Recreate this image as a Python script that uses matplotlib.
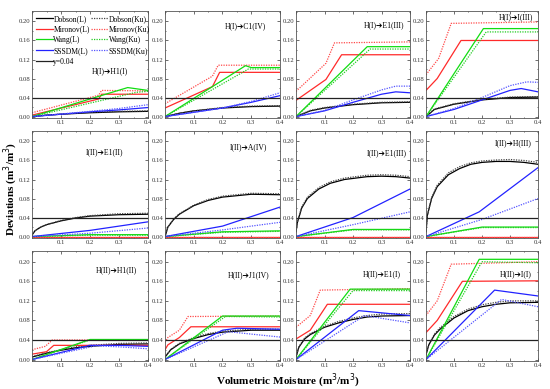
import matplotlib.pyplot as plt
from matplotlib.ticker import MultipleLocator

plt.rcParams['font.family'] = ['Liberation Serif', 'DejaVu Sans']

series = ['Dobson(L)', 'Dobson(Ku)', 'Mironov(L)', 'Mironov(Ku)',
          'Wang(L)', 'Wang(Ku)', 'SSSDM(L)', 'SSSDM(Ku)']
threshold = 0.04

titles = ['H(I)➔H1(I)', 'H(I)➔C1(IV)', 'H(I)➔E1(III)', 'H(I)➔I(III)',
          'I(II)➔E1(II)', 'I(II)➔A(IV)', 'I(II)➔E1(III)', 'I(II)➔H(III)',
          'H(II)➔H1(II)', 'H(II)➔J1(IV)', 'H(II)➔E1(I)', 'H(II)➔I(I)']

# each series: (moisture points, deviation points)
p1 = {
    'Dobson(L)': ([0, 0.05, 0.1, 0.2, 0.3, 0.4], [0.0, 0.003, 0.005, 0.008, 0.010, 0.011]),
    'Dobson(Ku)': ([0, 0.05, 0.1, 0.2, 0.3, 0.4], [0.0, 0.003, 0.005, 0.009, 0.011, 0.012]),
    'Mironov(L)': ([0, 0.23, 0.24, 0.4], [0.003, 0.037, 0.047, 0.047]),
    'Mironov(Ku)': ([0, 0.23, 0.24, 0.4], [0.008, 0.045, 0.055, 0.054]),
    'Wang(L)': ([0, 0.33, 0.4], [0.0, 0.061, 0.055]),
    'Wang(Ku)': ([0, 0.36, 0.4], [0.0, 0.051, 0.053]),
    'SSSDM(L)': ([0, 0.2, 0.3, 0.4], [0.0, 0.010, 0.014, 0.019]),
    'SSSDM(Ku)': ([0, 0.2, 0.3, 0.4], [0.0, 0.011, 0.017, 0.025]),
}
p2 = {
    'Dobson(L)': ([0, 0.05, 0.1, 0.2, 0.3, 0.4], [0.0, 0.007, 0.012, 0.018, 0.021, 0.022]),
    'Dobson(Ku)': ([0, 0.05, 0.1, 0.2, 0.3, 0.4], [0.0, 0.007, 0.012, 0.019, 0.022, 0.023]),
    'Mironov(L)': ([0, 0.165, 0.19, 0.4], [0.018, 0.063, 0.093, 0.093]),
    'Mironov(Ku)': ([0, 0.165, 0.185, 0.4], [0.027, 0.085, 0.108, 0.108]),
    'Wang(L)': ([0, 0.28, 0.3, 0.4], [0.0, 0.107, 0.103, 0.103]),
    'Wang(Ku)': ([0, 0.29, 0.4], [0.0, 0.100, 0.100]),
    'SSSDM(L)': ([0, 0.2, 0.3, 0.4], [0.0, 0.018, 0.030, 0.044]),
    'SSSDM(Ku)': ([0, 0.2, 0.3, 0.4], [0.0, 0.018, 0.032, 0.050]),
}
p3 = {
    'Dobson(L)': ([0, 0.05, 0.1, 0.2, 0.3, 0.4], [0.0, 0.012, 0.018, 0.025, 0.029, 0.030]),
    'Dobson(Ku)': ([0, 0.05, 0.1, 0.2, 0.3, 0.4], [0.0, 0.013, 0.019, 0.026, 0.030, 0.031]),
    'Mironov(L)': ([0, 0.105, 0.16, 0.4], [0.034, 0.078, 0.130, 0.130]),
    'Mironov(Ku)': ([0, 0.105, 0.135, 0.4], [0.053, 0.112, 0.155, 0.157]),
    'Wang(L)': ([0, 0.25, 0.4], [0.0, 0.147, 0.147]),
    'Wang(Ku)': ([0, 0.26, 0.4], [0.0, 0.142, 0.142]),
    'SSSDM(L)': ([0, 0.1, 0.2, 0.3, 0.35, 0.4], [0.0, 0.012, 0.030, 0.047, 0.052, 0.050]),
    'SSSDM(Ku)': ([0, 0.1, 0.2, 0.3, 0.35, 0.4], [0.0, 0.013, 0.035, 0.056, 0.064, 0.064]),
}
p4 = {
    'Dobson(L)': ([0, 0.03, 0.1, 0.2, 0.3, 0.4], [0.0, 0.015, 0.026, 0.035, 0.040, 0.041]),
    'Dobson(Ku)': ([0, 0.03, 0.1, 0.2, 0.3, 0.4], [0.0, 0.016, 0.027, 0.036, 0.041, 0.042]),
    'Mironov(L)': ([0, 0.04, 0.125, 0.4], [0.055, 0.080, 0.160, 0.160]),
    'Mironov(Ku)': ([0, 0.045, 0.09, 0.4], [0.088, 0.122, 0.196, 0.199]),
    'Wang(L)': ([0, 0.205, 0.4], [0.0, 0.185, 0.185]),
    'Wang(Ku)': ([0, 0.215, 0.4], [0.0, 0.178, 0.178]),
    'SSSDM(L)': ([0, 0.1, 0.2, 0.3, 0.34, 0.4], [0.0, 0.015, 0.035, 0.055, 0.059, 0.052]),
    'SSSDM(Ku)': ([0, 0.1, 0.2, 0.3, 0.36, 0.4], [0.0, 0.017, 0.040, 0.065, 0.073, 0.072]),
}
p5 = {
    'Dobson(L)': ([0, 0.01, 0.03, 0.05, 0.1, 0.15, 0.2, 0.3, 0.4],
                  [0.003, 0.012, 0.020, 0.025, 0.033, 0.039, 0.043, 0.046, 0.047]),
    'Dobson(Ku)': ([0, 0.01, 0.03, 0.05, 0.1, 0.15, 0.2, 0.3, 0.4],
                   [0.003, 0.012, 0.020, 0.025, 0.034, 0.040, 0.044, 0.048, 0.049]),
    'Mironov(L)': ([0, 0.4], [0.0, 0.0]),
    'Mironov(Ku)': ([0, 0.4], [0.0, 0.0]),
    'Wang(L)': ([0, 0.2, 0.4], [0.0, 0.004, 0.004]),
    'Wang(Ku)': ([0, 0.2, 0.4], [0.0, 0.003, 0.003]),
    'SSSDM(L)': ([0, 0.2, 0.4], [0.0, 0.013, 0.031]),
    'SSSDM(Ku)': ([0, 0.2, 0.4], [0.0, 0.007, 0.018]),
}
p6 = {
    'Dobson(L)': ([0, 0.01, 0.03, 0.05, 0.1, 0.15, 0.2, 0.3, 0.4],
                  [0.0, 0.020, 0.036, 0.047, 0.065, 0.076, 0.083, 0.089, 0.088]),
    'Dobson(Ku)': ([0, 0.01, 0.03, 0.05, 0.1, 0.15, 0.2, 0.3, 0.4],
                   [0.0, 0.020, 0.037, 0.048, 0.066, 0.078, 0.085, 0.091, 0.090]),
    'Mironov(L)': ([0, 0.4], [0.0, 0.0]),
    'Mironov(Ku)': ([0, 0.4], [0.0, 0.0]),
    'Wang(L)': ([0, 0.2, 0.4], [0.0, 0.010, 0.012]),
    'Wang(Ku)': ([0, 0.2, 0.4], [0.0, 0.009, 0.011]),
    'SSSDM(L)': ([0, 0.2, 0.4], [0.0, 0.022, 0.062]),
    'SSSDM(Ku)': ([0, 0.2, 0.4], [0.0, 0.014, 0.030]),
}
p7 = {
    'Dobson(L)': ([0, 0.005, 0.02, 0.04, 0.08, 0.12, 0.17, 0.25, 0.3, 0.35, 0.4],
                  [0.010, 0.030, 0.060, 0.080, 0.100, 0.112, 0.120, 0.126, 0.127, 0.126, 0.123]),
    'Dobson(Ku)': ([0, 0.005, 0.02, 0.04, 0.08, 0.12, 0.17, 0.25, 0.3, 0.35, 0.4],
                   [0.010, 0.031, 0.062, 0.083, 0.103, 0.115, 0.123, 0.129, 0.130, 0.129, 0.126]),
    'Mironov(L)': ([0, 0.4], [0.0, 0.0]),
    'Mironov(Ku)': ([0, 0.4], [0.0, 0.0]),
    'Wang(L)': ([0, 0.2, 0.4], [0.0, 0.015, 0.015]),
    'Wang(Ku)': ([0, 0.2, 0.4], [0.0, 0.014, 0.014]),
    'SSSDM(L)': ([0, 0.2, 0.4], [0.0, 0.040, 0.100]),
    'SSSDM(Ku)': ([0, 0.2, 0.4], [0.0, 0.025, 0.052]),
}
p8 = {
    'Dobson(L)': ([0, 0.005, 0.02, 0.04, 0.08, 0.12, 0.16, 0.2, 0.25, 0.3, 0.35, 0.4],
                  [0.010, 0.045, 0.080, 0.105, 0.130, 0.143, 0.152, 0.156, 0.158, 0.158, 0.156, 0.152]),
    'Dobson(Ku)': ([0, 0.005, 0.02, 0.04, 0.08, 0.12, 0.16, 0.2, 0.25, 0.3, 0.35, 0.4],
                   [0.010, 0.045, 0.082, 0.108, 0.134, 0.147, 0.155, 0.159, 0.161, 0.162, 0.160, 0.156]),
    'Mironov(L)': ([0, 0.4], [0.0, 0.0]),
    'Mironov(Ku)': ([0, 0.4], [0.0, 0.0]),
    'Wang(L)': ([0, 0.2, 0.4], [0.0, 0.020, 0.020]),
    'Wang(Ku)': ([0, 0.2, 0.4], [0.0, 0.019, 0.019]),
    'SSSDM(L)': ([0, 0.19, 0.4], [0.0, 0.052, 0.145]),
    'SSSDM(Ku)': ([0, 0.2, 0.4], [0.0, 0.036, 0.080]),
}
p9 = {
    'Dobson(L)': ([0, 0.05, 0.1, 0.15, 0.2, 0.3, 0.4], [0.005, 0.013, 0.019, 0.024, 0.027, 0.031, 0.032]),
    'Dobson(Ku)': ([0, 0.05, 0.1, 0.15, 0.2, 0.3, 0.4], [0.006, 0.014, 0.020, 0.026, 0.029, 0.033, 0.034]),
    'Mironov(L)': ([0, 0.05, 0.075, 0.4], [0.011, 0.016, 0.029, 0.029]),
    'Mironov(Ku)': ([0, 0.046, 0.07, 0.4], [0.020, 0.027, 0.040, 0.040]),
    'Wang(L)': ([0, 0.2, 0.4], [0.0, 0.041, 0.041]),
    'Wang(Ku)': ([0, 0.2, 0.4], [0.0, 0.040, 0.040]),
    'SSSDM(L)': ([0, 0.2, 0.3, 0.4], [0.0, 0.029, 0.029, 0.027]),
    'SSSDM(Ku)': ([0, 0.22, 0.3, 0.4], [0.0, 0.028, 0.026, 0.022]),
}
p10 = {
    'Dobson(L)': ([0, 0.02, 0.05, 0.1, 0.15, 0.2, 0.3, 0.4], [0.005, 0.020, 0.032, 0.043, 0.051, 0.056, 0.060, 0.060]),
    'Dobson(Ku)': ([0, 0.02, 0.05, 0.1, 0.15, 0.2, 0.3, 0.4], [0.005, 0.021, 0.033, 0.045, 0.053, 0.058, 0.062, 0.062]),
    'Mironov(L)': ([0, 0.01, 0.05, 0.09, 0.4], [0.020, 0.030, 0.045, 0.067, 0.067]),
    'Mironov(Ku)': ([0, 0.01, 0.05, 0.08, 0.4], [0.035, 0.045, 0.060, 0.088, 0.089]),
    'Wang(L)': ([0, 0.2, 0.4], [0.0, 0.089, 0.089]),
    'Wang(Ku)': ([0, 0.21, 0.4], [0.0, 0.088, 0.087]),
    'SSSDM(L)': ([0, 0.2, 0.25, 0.4], [0.0, 0.060, 0.064, 0.062]),
    'SSSDM(Ku)': ([0, 0.22, 0.3, 0.4], [0.0, 0.057, 0.052, 0.046]),
}
p11 = {
    'Dobson(L)': ([0, 0.01, 0.03, 0.05, 0.1, 0.15, 0.2, 0.25, 0.3, 0.4],
                  [0.005, 0.025, 0.042, 0.051, 0.066, 0.075, 0.082, 0.087, 0.089, 0.090]),
    'Dobson(Ku)': ([0, 0.01, 0.03, 0.05, 0.1, 0.15, 0.2, 0.25, 0.3, 0.4],
                   [0.005, 0.026, 0.044, 0.053, 0.068, 0.078, 0.085, 0.090, 0.093, 0.094]),
    'Mironov(L)': ([0, 0.05, 0.11, 0.4], [0.042, 0.060, 0.113, 0.113]),
    'Mironov(Ku)': ([0, 0.05, 0.085, 0.4], [0.066, 0.090, 0.142, 0.145]),
    'Wang(L)': ([0, 0.19, 0.4], [0.0, 0.144, 0.144]),
    'Wang(Ku)': ([0, 0.2, 0.4], [0.0, 0.141, 0.141]),
    'SSSDM(L)': ([0, 0.22, 0.4], [0.0, 0.100, 0.090]),
    'SSSDM(Ku)': ([0, 0.24, 0.4], [0.0, 0.090, 0.075]),
}
p12 = {
    'Dobson(L)': ([0, 0.01, 0.03, 0.05, 0.1, 0.15, 0.2, 0.25, 0.3, 0.4],
                  [0.010, 0.030, 0.050, 0.062, 0.085, 0.100, 0.108, 0.113, 0.116, 0.117]),
    'Dobson(Ku)': ([0, 0.01, 0.03, 0.05, 0.1, 0.15, 0.2, 0.25, 0.3, 0.4],
                   [0.010, 0.030, 0.052, 0.065, 0.088, 0.103, 0.112, 0.117, 0.120, 0.120]),
    'Mironov(L)': ([0, 0.04, 0.13, 0.4], [0.055, 0.080, 0.160, 0.161]),
    'Mironov(Ku)': ([0, 0.04, 0.09, 0.4], [0.090, 0.120, 0.195, 0.200]),
    'Wang(L)': ([0, 0.19, 0.4], [0.0, 0.205, 0.205]),
    'Wang(Ku)': ([0, 0.2, 0.4], [0.0, 0.200, 0.198]),
    'SSSDM(L)': ([0, 0.245, 0.4], [0.0, 0.142, 0.130]),
    'SSSDM(Ku)': ([0, 0.27, 0.4], [0.0, 0.123, 0.108]),
}
panels = [p1, p2, p3, p4, p5, p6, p7, p8, p9, p10, p11, p12]

# label position (moisture, deviation) of each panel's transition text
label_xy = [(0.27, 0.095), (0.28, 0.19), (0.31, 0.193), (0.32, 0.208),
            (0.25, 0.178), (0.29, 0.188), (0.32, 0.175), (0.31, 0.196),
            (0.29, 0.182), (0.29, 0.172), (0.30, 0.175), (0.32, 0.175)]

styles = {
    'Dobson(L)': dict(color='black', ls='-'),
    'Dobson(Ku)': dict(color='#444444', ls=(0, (1, 1))),
    'Mironov(L)': dict(color='#ff2a2a', ls='-'),
    'Mironov(Ku)': dict(color='#ff4a4a', ls=(0, (1, 1))),
    'Wang(L)': dict(color='#11dd11', ls='-'),
    'Wang(Ku)': dict(color='#22cc22', ls=(0, (1, 1))),
    'SSSDM(L)': dict(color='#2222ff', ls='-'),
    'SSSDM(Ku)': dict(color='#5555ff', ls=(0, (1, 1))),
}

W, H = 550, 389
col_px = [(32, 148), (165, 280), (296, 410), (426, 538)]
row_px = [(11, 118), (131, 238), (251, 361)]

fig = plt.figure(figsize=(5.5, 3.89), dpi=100)

for i, data in enumerate(panels):
    r, c = divmod(i, 4)
    l, rr = col_px[c]
    t, b = row_px[r]
    ax = fig.add_axes([l / W, 1 - b / H, (rr - l) / W, (b - t) / H])
    handles = {}
    for name in series:
        x, y = data[name]
        ln, = ax.plot(x, y, lw=0.9, label=name, **styles[name])
        handles[name] = ln
    hl = ax.axhline(threshold, color='#222222', lw=0.9, label='y=0.04')
    ax.text(label_xy[i][0], label_xy[i][1], titles[i], fontsize=5.5,
            ha='center', va='center')
    ax.set_xlim(0, 0.4)
    ax.set_ylim(-0.003, 0.222)
    ax.set_xticks([0, 0.1, 0.2, 0.3, 0.4], ['', '0.1', '0.2', '0.3', '0.4'])
    ax.set_yticks([0, 0.04, 0.08, 0.12, 0.16, 0.20])
    ax.xaxis.set_minor_locator(MultipleLocator(0.05))
    ax.yaxis.set_minor_locator(MultipleLocator(0.02))
    ax.tick_params(which='both', direction='in', top=True, right=True,
                   labelsize=4.8, pad=1.2, width=0.5, colors='#333333')
    ax.tick_params(which='major', length=2)
    ax.tick_params(which='minor', length=1)
    for s in ax.spines.values():
        s.set_linewidth(0.6)
        s.set_color('#555555')
    if i == 0:
        order = ['Dobson(L)', 'Mironov(L)', 'Wang(L)', 'SSSDM(L)']
        order_ku = ['Dobson(Ku)', 'Mironov(Ku)', 'Wang(Ku)', 'SSSDM(Ku)']
        hs = [handles[n] for n in order] + [hl] + [handles[n] for n in order_ku]
        ax.legend(handles=hs, loc='upper left', ncol=2, frameon=False,
                  fontsize=5.5, handlelength=2.2, handletextpad=0.1,
                  columnspacing=0.2, labelspacing=0.35, borderaxespad=0.3,
                  borderpad=0.2)

fig.text(11 / W, 1 - 189 / H, 'Deviations (m$^3$/m$^3$)', rotation=90,
         ha='center', va='center', fontsize=8, fontweight='bold')
fig.text(288 / W, 1 - 381 / H, 'Volumetric Moisture (m$^3$/m$^3$)',
         ha='center', va='center', fontsize=8, fontweight='bold')

fig.savefig('out.png', dpi=100)
